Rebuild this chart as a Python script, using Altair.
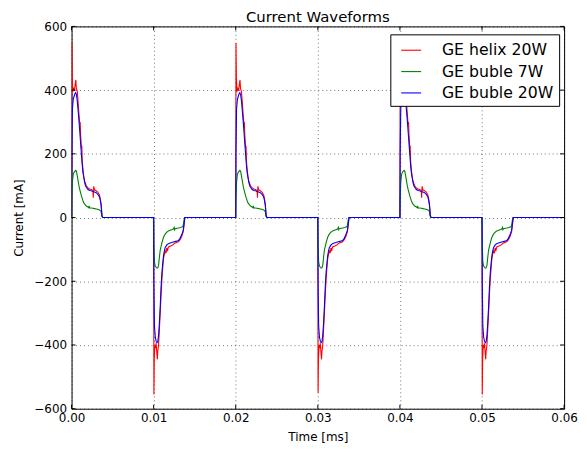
import altair as alt
import pandas as pd

# ---- data ----
series_names = ["GE helix 20W", "GE buble 7W", "GE buble 20W"]
series_colors = ["#ff0000", "#008000", "#0000ff"]

pulse_starts = [0.00, 0.01, 0.02, 0.03, 0.04, 0.05]
pulse_polarity = ["pos", "neg", "pos", "neg", "pos", "neg"]
red_spikes = [550, -555, 548, -550, 560, -555]
x_end = 0.06

# pulse shapes: (time offset in ms-axis units, current in mA)
red_pos = [(0.0, 0), (0.00003, 550), (0.00008, 440), (0.00015, 395), (0.00025, 405), (0.00035, 398),
           (0.00045, 420), (0.00052, 432), (0.00058, 405), (0.0007, 395), (0.0008, 362), (0.0009, 325),
           (0.001, 292), (0.00105, 300), (0.0011, 262), (0.0012, 218), (0.00125, 225), (0.0013, 178),
           (0.0014, 148), (0.0015, 126), (0.0016, 113), (0.0018, 100), (0.002, 93), (0.0022, 90),
           (0.0024, 88), (0.0026, 85), (0.00265, 62), (0.0027, 98), (0.0028, 87), (0.003, 84),
           (0.0032, 80), (0.0034, 71), (0.0035, 59), (0.0036, 40), (0.00372, 5), (0.0038, 0)]
green_pos = [(0.0, 0), (0.00003, 60), (0.0001, 110), (0.0002, 135), (0.0003, 142), (0.0004, 145),
             (0.0005, 148), (0.0006, 145), (0.0007, 130), (0.0008, 115), (0.0009, 100), (0.001, 88),
             (0.0011, 78), (0.0012, 68), (0.0013, 60), (0.0014, 52), (0.0015, 46), (0.0016, 42),
             (0.0018, 36), (0.002, 33), (0.0021, 31), (0.00215, 37), (0.0022, 31), (0.0024, 30),
             (0.0026, 29), (0.0028, 28), (0.003, 27), (0.0032, 26), (0.0034, 24), (0.0035, 22),
             (0.0036, 18), (0.0037, 3), (0.0038, 0)]
blue_pos = [(0.0, 0), (0.00003, 200), (0.0001, 340), (0.0002, 370), (0.0003, 380), (0.0004, 388),
            (0.0005, 392), (0.0006, 385), (0.0007, 365), (0.0008, 335), (0.0009, 305), (0.001, 270),
            (0.0011, 235), (0.0012, 200), (0.0013, 165), (0.0014, 140), (0.0015, 125), (0.0016, 110),
            (0.0017, 100), (0.0018, 95), (0.002, 88), (0.0022, 85), (0.0024, 84), (0.0026, 82),
            (0.0028, 80), (0.003, 78), (0.0032, 73), (0.0034, 65), (0.0035, 55), (0.0036, 40),
            (0.0037, 5), (0.0038, 0)]
red_neg = [(0.0, 0), (0.00003, -555), (0.00008, -440), (0.00015, -400), (0.00025, -410), (0.0003, -395),
           (0.0004, -430), (0.00045, -445), (0.0005, -420), (0.0006, -400), (0.0007, -350), (0.0008, -300),
           (0.0009, -245), (0.001, -195), (0.0011, -160), (0.0012, -130), (0.0013, -115), (0.0014, -105),
           (0.0015, -112), (0.0016, -95), (0.0017, -102), (0.0018, -92), (0.002, -90), (0.0022, -88),
           (0.0024, -84), (0.0026, -80), (0.0028, -78), (0.003, -76), (0.0032, -70), (0.0034, -60),
           (0.0036, -45), (0.0037, -25), (0.0038, 0)]
green_neg = [(0.0, 0), (0.00003, -80), (0.0001, -140), (0.0002, -152), (0.0003, -156), (0.0004, -159),
             (0.0005, -158), (0.0006, -150), (0.0007, -125), (0.0008, -102), (0.001, -80), (0.0012, -62),
             (0.0014, -52), (0.0016, -46), (0.0018, -42), (0.002, -40), (0.0022, -38), (0.0024, -36),
             (0.0025, -31), (0.00255, -38), (0.0026, -35), (0.003, -33), (0.0033, -31), (0.0035, -29),
             (0.0036, -25), (0.0037, -8), (0.0038, 0)]
blue_neg = [(0.0, 0), (0.00003, -200), (0.0001, -340), (0.0002, -375), (0.0003, -388), (0.0004, -393),
            (0.0005, -390), (0.0006, -370), (0.0007, -330), (0.0008, -280), (0.0009, -220), (0.001, -175),
            (0.0011, -145), (0.0012, -120), (0.0013, -105), (0.0014, -95), (0.0016, -86), (0.0018, -82),
            (0.002, -80), (0.0024, -77), (0.0028, -74), (0.003, -72), (0.0032, -66), (0.0034, -55),
            (0.0036, -40), (0.0037, -20), (0.0038, 0)]

x_ticks = [0.0, 0.01, 0.02, 0.03, 0.04, 0.05, 0.06]
y_ticks = [-600, -400, -200, 0, 200, 400, 600]

# ---- build table ----
shapes = {
    "GE helix 20W": {"pos": red_pos, "neg": red_neg},
    "GE buble 7W": {"pos": green_pos, "neg": green_neg},
    "GE buble 20W": {"pos": blue_pos, "neg": blue_neg},
}
rows = []
for name in series_names:
    i = 0
    for k, (t0, pol) in enumerate(zip(pulse_starts, pulse_polarity)):
        shape = shapes[name][pol]
        for j, (dt, v) in enumerate(shape):
            if name == "GE helix 20W" and j == 1:
                v = red_spikes[k]
            rows.append({"series": name, "t": t0 + dt, "v": v, "i": i})
            i += 1
    rows.append({"series": name, "t": x_end, "v": 0, "i": i})
df = pd.DataFrame(rows)

W, H = 496, 385
color = alt.Color(
    "series:N",
    scale=alt.Scale(domain=series_names, range=series_colors),
    legend=alt.Legend(title=None, orient="none", legendX=321, legendY=8, symbolType="stroke",
                      symbolSize=400, symbolStrokeWidth=1.1, symbolOffset=5, labelFontSize=15.8,
                      labelFont="DejaVu Sans", labelOffset=20, rowPadding=2.5,
                      padding=5, strokeColor="#000000", fillColor="#ffffff",
                      cornerRadius=0, labelColor="#000000"),
)
xs = alt.Scale(domain=[0, 0.06], nice=False, zero=False, padding=0)
ys = alt.Scale(domain=[-600, 600], nice=False, padding=0)

layers = []
for name in series_names:
    layers.append(
        alt.Chart(df).transform_filter(alt.datum.series == name).mark_line(strokeWidth=1.1, clip=True).encode(
            x=alt.X("t:Q", scale=xs,
                    axis=alt.Axis(values=x_ticks, format=".2f", title="Time [ms]", grid=True,
                                  ticks=False, domain=False, labelPadding=4, titlePadding=8,
                                  labelFlush=False, labelOverlap=False)),
            y=alt.Y("v:Q", scale=ys,
                    axis=alt.Axis(values=y_ticks, title="Current [mA]", grid=True,
                                  ticks=False, domain=False, labelPadding=5, titlePadding=8,
                                  labelFlush=False, labelOverlap=False)),
            color=color,
            order=alt.Order("i:Q"),
        )
    )

xt = pd.DataFrame({"t": x_ticks})
yt = pd.DataFrame({"v": y_ticks})
tick_layers = [
    alt.Chart(xt).mark_rule(color="black").encode(x=alt.X("t:Q", scale=xs), y=alt.value(H), y2=alt.value(H - 4)),
    alt.Chart(xt).mark_rule(color="black").encode(x=alt.X("t:Q", scale=xs), y=alt.value(0), y2=alt.value(4)),
    alt.Chart(yt).mark_rule(color="black").encode(y=alt.Y("v:Q", scale=ys), x=alt.value(0), x2=alt.value(4)),
    alt.Chart(yt).mark_rule(color="black").encode(y=alt.Y("v:Q", scale=ys), x=alt.value(W), x2=alt.value(W - 4)),
]

chart = alt.layer(*layers, *tick_layers).properties(
    width=W, height=H,
    title=alt.TitleParams("Current Waveforms", fontSize=15, font="DejaVu Sans", fontWeight="normal",
                          offset=-5, anchor="middle", color="#000000"),
    autosize=alt.AutoSizeParams(type="none"),
    padding={"left": 64, "top": 17, "right": 15, "bottom": 34},
).configure_view(stroke="#000000", strokeWidth=1).configure_axis(
    labelFont="DejaVu Sans", labelFontSize=12, labelColor="#000000",
    titleFont="DejaVu Sans", titleFontSize=12, titleFontWeight="normal", titleColor="#000000",
    gridColor="#000000", gridOpacity=0.55, gridDash=[1, 3], gridWidth=1,
)

chart.save("out.html", embed_options={"renderer": "svg", "actions": False})
